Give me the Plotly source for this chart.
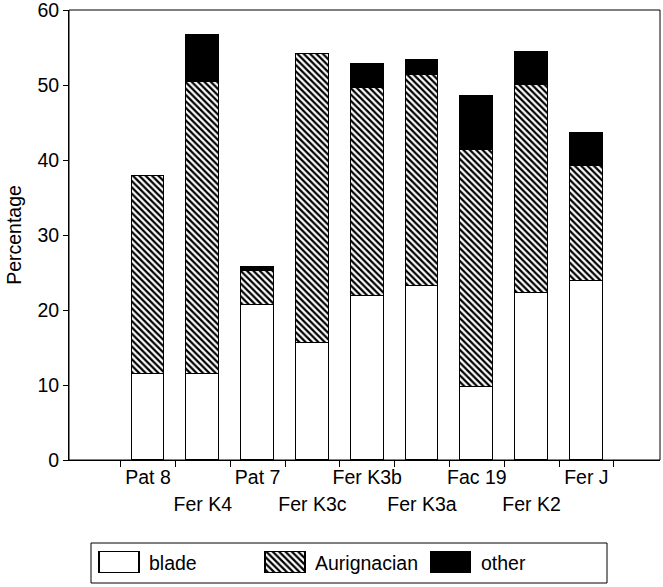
import plotly.graph_objects as go

# ---- data ----
categories = ["Pat 8", "Fer K4", "Pat 7", "Fer K3c", "Fer K3b",
              "Fer K3a", "Fac 19", "Fer K2", "Fer J"]
blade = [11.5, 11.5, 20.7, 15.6, 21.9, 23.2, 9.7, 22.3, 23.9]
aurignacian = [26.4, 38.9, 4.5, 38.6, 27.7, 28.1, 31.6, 27.7, 15.3]
other = [0.0, 6.3, 0.6, 0.0, 3.2, 2.1, 7.3, 4.4, 4.4]
series_names = ["blade", "Aurignacian", "other"]
y_ticks = [0, 10, 20, 30, 40, 50, 60]

FONT = "Liberation Sans, Arial, Helvetica, sans-serif"
FS = 19.5
X_RANGE = [-1.442, 9.343]

styles = {
    "blade": dict(color="white", line=dict(color="black", width=1.2)),
    "Aurignacian": dict(color="white", line=dict(color="black", width=1.2),
                        pattern=dict(shape="\\", fgcolor="black", bgcolor="white",
                                     size=4.5, solidity=0.5, fillmode="replace")),
    "other": dict(color="black", line=dict(color="black", width=1.2)),
}
values = {"blade": blade, "Aurignacian": aurignacian, "other": other}

positions = list(range(len(categories)))

fig = go.Figure()
for name in series_names:
    fig.add_trace(go.Bar(x=positions, y=values[name], name=name, width=0.6,
                         marker=styles[name], xaxis="x", yaxis="y",
                         showlegend=False, hovertext=categories))

# invisible carrier trace so the second (lower-row) label axis is drawn
fig.add_trace(go.Scatter(x=positions[1::2], y=[0] * len(positions[1::2]),
                         xaxis="x2", yaxis="y", mode="none",
                         showlegend=False, hoverinfo="skip"))

# legend drawn as a small subplot of swatches
for name in series_names:
    fig.add_trace(go.Bar(x=[name], y=[1], width=0.24, marker=styles[name],
                         xaxis="x3", yaxis="y3", showlegend=False, hoverinfo="skip",
                         cliponaxis=False))

annotations = [dict(x=name, y=0.5, xref="x3", yref="y3", text=name, showarrow=False,
                    xanchor="left", yanchor="middle", xshift=28,
                    font=dict(family=FONT, size=FS, color="black"))
               for name in series_names]

fig.update_layout(
    width=663, height=587,
    margin=dict(l=20, r=3, t=10, b=4, autoexpand=False),
    paper_bgcolor="white", plot_bgcolor="white",
    barmode="stack", bargap=0,
    font=dict(family=FONT, size=FS, color="black"),
    xaxis=dict(domain=[49 / 640, 1.0], range=X_RANGE, anchor="y", automargin=False,
               tickmode="array", tickvals=positions[0::2], ticktext=categories[0::2],
               ticks="", showgrid=False, zeroline=False,
               showline=True, linecolor="black", linewidth=1,
               minor=dict(ticks="outside", ticklen=6, tickcolor="black", tickwidth=1,
                          tick0=0.5, dtick=1, showgrid=False),
               tickfont=dict(family=FONT, size=FS, color="black")),
    xaxis2=dict(domain=[49 / 640, 1.0], range=X_RANGE, overlaying="x", anchor="y",
                side="bottom", automargin=False,
                tickmode="array", tickvals=positions[1::2], ticktext=categories[1::2],
                ticks="", showgrid=False, zeroline=False, showline=False,
                ticklabelstandoff=30,
                tickfont=dict(family=FONT, size=FS, color="black")),
    yaxis=dict(domain=[123 / 573, 1.0], range=[0, 60], anchor="x", automargin=False,
               tickmode="array", tickvals=y_ticks, ticklabeloverflow="allow",
               ticks="outside", ticklen=5, tickcolor="black",
               showgrid=False, zeroline=False,
               showline=True, linecolor="black", linewidth=1,
               title=dict(text="Percentage", standoff=10,
                          font=dict(family=FONT, size=FS, color="black")),
               tickfont=dict(family=FONT, size=FS, color="black")),
    xaxis3=dict(domain=[16.6 / 640, 513.9 / 640], anchor="y3", type="category",
                range=[-0.5, 2.5], visible=False, fixedrange=True),
    yaxis3=dict(domain=[8.95 / 573, 32.05 / 573], anchor="x3", range=[-0.05, 1.05],
                visible=False, fixedrange=True),
    shapes=[
        # plot frame (top and right edges of the axes box)
        dict(type="rect", xref="x domain", yref="y domain", x0=0, x1=1, y0=0, y1=1,
             line=dict(color="black", width=1), fillcolor="rgba(0,0,0,0)", layer="above"),
        # legend box
        dict(type="rect", xref="paper", yref="paper",
             x0=71 / 640, x1=587 / 640, y0=0.0, y1=40 / 573,
             line=dict(color="black", width=1), fillcolor="rgba(0,0,0,0)"),
    ],
    annotations=annotations,
)

fig.write_html("out.html")
